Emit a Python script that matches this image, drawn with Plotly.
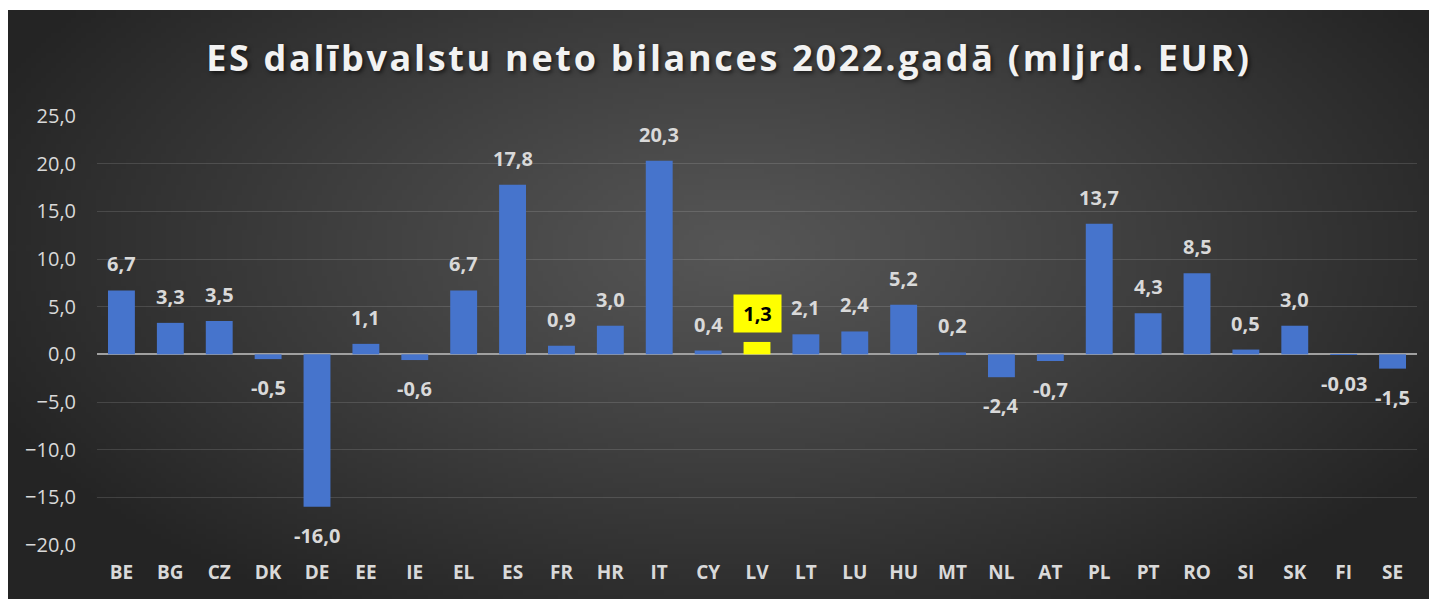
import base64, struct, zlib
import numpy as np
import plotly.graph_objects as go

# ---------------- data ----------------
countries = ["BE", "BG", "CZ", "DK", "DE", "EE", "IE", "EL", "ES", "FR", "HR", "IT", "CY", "LV",
             "LT", "LU", "HU", "MT", "NL", "AT", "PL", "PT", "RO", "SI", "SK", "FI", "SE"]
net_balance = [6.7, 3.3, 3.5, -0.5, -16.0, 1.1, -0.6, 6.7, 17.8, 0.9, 3.0, 20.3, 0.4, 1.3,
               2.1, 2.4, 5.2, 0.2, -2.4, -0.7, 13.7, 4.3, 8.5, 0.5, 3.0, -0.03, -1.5]
highlight = "LV"
y_ticks = [-20, -15, -10, -5, 0, 5, 10, 15, 20, 25]
title_text = "ES dalībvalstu neto bilances 2022.gadā (mljrd. EUR)"


def fmt(v):
    s = f"{v:.2f}" if abs(v) < 0.1 else f"{v:.1f}"
    return s.replace(".", ",")


labels = [fmt(v) for v in net_balance]

# ---------------- background gradient image ----------------
# page has an 8px body margin: figure coords = page coords - 8
W, H = 1437, 599
ml, mr, mt, mb = 89, 28, 108, 62
pw, ph = W - ml - mr, H - mt - mb
px0, py0 = 0, 2  # dark panel top-left in figure coords

iw, ih = 286, 118
xs = np.linspace(px0, W, iw)
ys = np.linspace(py0, H, ih)
X, Y = np.meshgrid(xs, ys)
t = np.sqrt(((X - 730) / 820) ** 2 + ((Y - 240) / 430) ** 2)
t = np.clip(t, 0, 1) ** 1.1
c0, c1 = np.array([86, 86, 86]), np.array([36, 36, 36])
img = (c0[None, None, :] + (c1 - c0)[None, None, :] * t[..., None]).astype(np.uint8)
raw = b"".join(b"\x00" + img[r].tobytes() for r in range(ih))


def chunk(tag, data):
    c = struct.pack(">I", len(data)) + tag + data
    return c + struct.pack(">I", zlib.crc32(tag + data) & 0xFFFFFFFF)


png = (b"\x89PNG\r\n\x1a\n" + chunk(b"IHDR", struct.pack(">IIBBBBB", iw, ih, 8, 2, 0, 0, 0))
       + chunk(b"IDAT", zlib.compress(raw, 9)) + chunk(b"IEND", b""))
src = "data:image/png;base64," + base64.b64encode(png).decode()

# ---------------- figure ----------------
bar_colors = ["#ffff00" if c == highlight else "#4674cc" for c in countries]

fig = go.Figure(go.Bar(
    x=countries, y=net_balance, marker=dict(color=bar_colors, line=dict(width=0)),
    width=0.55, hoverinfo="x+y"))

annos = []
for c, v, lab in zip(countries, net_balance, labels):
    if c == highlight:
        annos.append(dict(x=c, y=v, text=f"<b>{lab}</b>", showarrow=False, yanchor="bottom",
                          yshift=9, bgcolor="#ffff00", width=37, height=27, borderpad=5,
                          font=dict(family="Open Sans", size=20, color="#000000")))
    elif v >= 0:
        annos.append(dict(x=c, y=v, text=f"<b>{lab}</b>", showarrow=False, yanchor="bottom",
                          yshift=11, font=dict(family="Open Sans", size=20, color="#d9d9d9")))
    else:
        annos.append(dict(x=c, y=v, text=f"<b>{lab}</b>", showarrow=False, yanchor="top",
                          yshift=-13, font=dict(family="Open Sans", size=20, color="#d9d9d9")))

fig.update_layout(
    width=W, height=H,
    margin=dict(l=ml, r=mr, t=mt, b=mb, pad=0),
    paper_bgcolor="#ffffff", plot_bgcolor="rgba(0,0,0,0)",
    separators=",.",
    showlegend=False,
    bargap=0.45,
    title=dict(text=f"<b>{title_text}</b>", x=688 / W, xanchor="center", xref="paper",
               y=1 - 50 / H, yanchor="middle", yref="container",
               font=dict(family="Open Sans", size=36, color="#f2f2f2",
                         shadow="2px 2px 4px rgba(0,0,0,0.6)")),
    images=[dict(source=src, xref="paper", yref="paper",
                 x=-(ml - px0) / pw, y=1 + (mt - py0) / ph,
                 sizex=(W - px0) / pw, sizey=(H - py0) / ph,
                 xanchor="left", yanchor="top", sizing="stretch", layer="below")],
    annotations=annos,
    xaxis=dict(showgrid=False, showline=False, ticks="", ticklabelstandoff=14,
               tickfont=dict(family="Open Sans", size=19, color="#d9d9d9", weight="bold")),
    yaxis=dict(range=[-20, 25], tickvals=y_ticks, tickformat=".1f",
               showgrid=True, gridcolor="rgba(255,255,255,0.13)", gridwidth=1,
               zeroline=True, zerolinecolor="#a0a0a0", zerolinewidth=2,
               showline=False, ticks="", ticklabelstandoff=20,
               tickfont=dict(family="Open Sans", size=20, color="#d9d9d9")),
)

post = ("document.querySelectorAll('.gtitle').forEach(function(e){"
        "e.style.letterSpacing='2.7px';});")
fig.write_html("out.html", post_script=post)
